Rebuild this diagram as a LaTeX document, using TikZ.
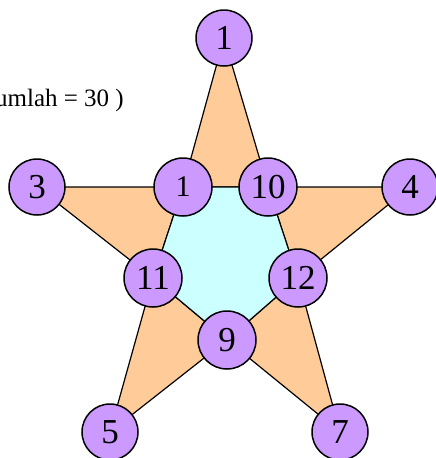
\documentclass[tikz,border=0pt]{standalone}
\usepackage{fontspec}
\setmainfont{Liberation Serif}
\definecolor{peach}{HTML}{FFCC99}
\definecolor{aqua}{HTML}{CCFFFF}
\definecolor{lilac}{HTML}{CC99FF}
\tikzset{
  tri/.style={fill=peach,draw=black,line width=1.2pt,line join=miter},
  pent/.style={fill=aqua,draw=black,line width=1.2pt},
  ball/.style={circle,fill=lilac,draw=black,line width=1.5pt,minimum size=56pt,inner sep=0pt,font=\fontsize{35}{35}\selectfont},
  inball/.style={ball,minimum size=58pt},
  label/.style={font=\fontsize{25}{25}\selectfont,inner sep=0pt}
}
\begin{document}
\begin{tikzpicture}[x=1pt,y=-1pt]
\useasboundingbox (0,0) rectangle (436,458);
\clip (0,0) rectangle (436,458);
% positions
\coordinate (pT) at (224,38);
\coordinate (pL) at (37,187);
\coordinate (pR) at (410,187);
\coordinate (pBL) at (110,432);
\coordinate (pBR) at (340,432);
\coordinate (qA) at (183,187);
\coordinate (qB) at (268,187);
\coordinate (qC) at (298,278);
\coordinate (qD) at (227,340);
\coordinate (qE) at (153,278);
% star points
\filldraw[tri] (pT) -- (qA) -- (qB) -- cycle;
\filldraw[tri] (pL) -- (qA) -- (qE) -- cycle;
\filldraw[tri] (pR) -- (qB) -- (qC) -- cycle;
\filldraw[tri] (pBL) -- (qE) -- (qD) -- cycle;
\filldraw[tri] (pBR) -- (qC) -- (qD) -- cycle;
\filldraw[pent] (qA) -- (qB) -- (qC) -- (qD) -- (qE) -- cycle;
% balls
\node[ball] (nT) at (pT) {1};
\node[ball] (nL) at (pL) {3};
\node[ball] (nR) at (pR) {4};
\node[ball] (nBL) at (pBL) {5};
\node[ball] (nBR) at (pBR) {7};
\node[inball,font=\fontsize{30}{30}\selectfont] (nA) at (qA) {1};
\node[inball] (nB) at (qB) {10};
\node[inball] (nC) at (qC) {12};
\node[inball] (nD) at (qD) {9};
\node[inball] (nE) at (qE) {11};
% text (cut off at the left edge, as in the reference)
\node[label,anchor=base east] (sum) at (124,106.5) {(Jumlah = 30 )};
\end{tikzpicture}
\end{document}
